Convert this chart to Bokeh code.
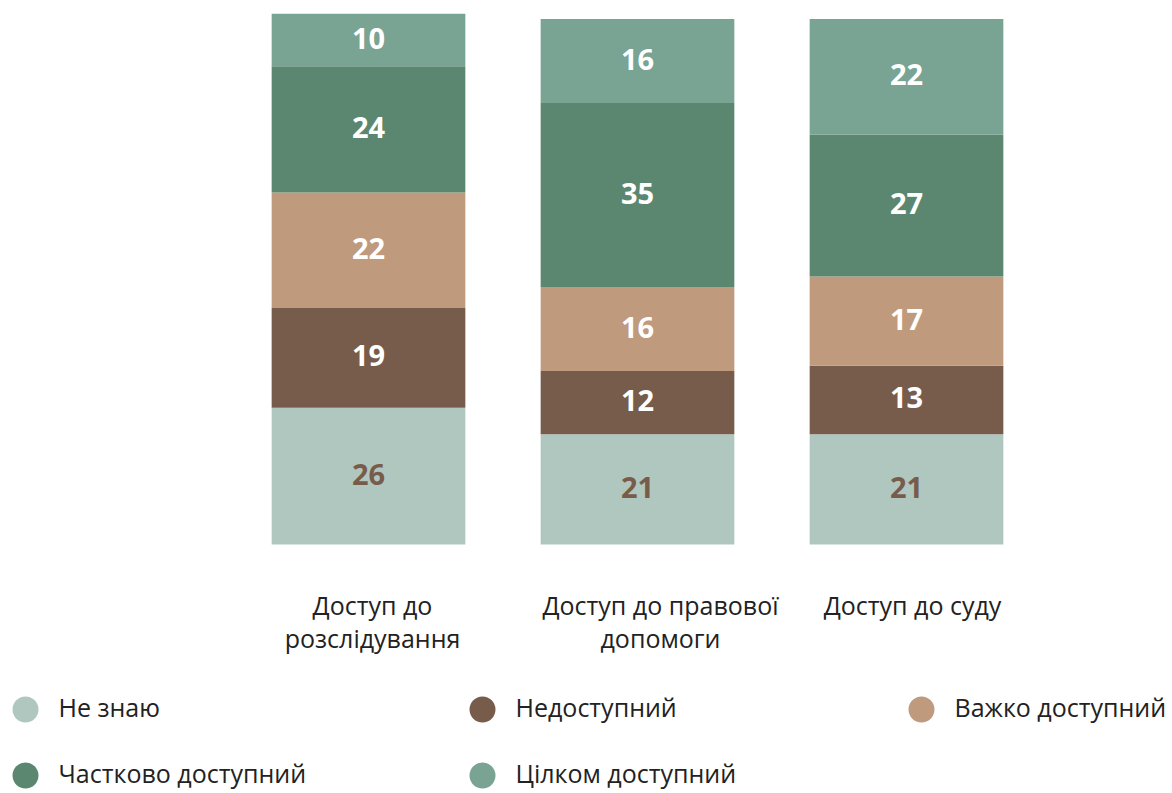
import textwrap
from bokeh.plotting import figure
from bokeh.models import ColumnDataSource, Range1d
from bokeh.core.properties import value
from bokeh.embed import file_html
from bokeh.resources import INLINE

# ---- data ----
categories = ["Доступ до розслідування", "Доступ до правової допомоги", "Доступ до суду"]
series = ["Не знаю", "Недоступний", "Важко доступний", "Частково доступний", "Цілком доступний"]
ne_znayu = [26, 21, 21]
nedostupnyi = [19, 12, 13]
vazhko_dostupnyi = [22, 16, 17]
chastkovo_dostupnyi = [24, 35, 27]
tsilkom_dostupnyi = [10, 16, 22]

# ---- styles ----
colors = ["#b0c7bf", "#785c4b", "#c09a7c", "#5b8771", "#79a393"]
label_colors = ["#785c4b", "#ffffff", "#ffffff", "#ffffff", "#ffffff"]
cat_label_nudge = [4, 23, 6]
TEXT_FONT = "Open Sans"
W, H = 1172, 793
X_PX, X0_PX = 269.0, 368.0      # px per category, centre of first bar
Y_PX, Y0_PX = 5.255, 544.0      # px per percent, baseline position
BAR_W = 0.72

values = [ne_znayu, nedostupnyi, vazhko_dostupnyi, chastkovo_dostupnyi, tsilkom_dostupnyi]
keys = ["s%d" % i for i in range(len(series))]

p = figure(width=W, height=H, output_backend="svg", toolbar_location=None,
           x_range=Range1d(-X0_PX / X_PX, (W - X0_PX) / X_PX),
           y_range=Range1d(-(H - Y0_PX) / Y_PX, Y0_PX / Y_PX),
           min_border=0, outline_line_color=None)
p.axis.visible = False
p.grid.visible = False
p.background_fill_color = "white"
p.border_fill_color = "white"

xs = list(range(len(categories)))
data = {"x": xs}
for k, v in zip(keys, values):
    data[k] = v
src = ColumnDataSource(data)
p.vbar_stack(keys, x="x", width=BAR_W, color=colors, line_color=None, source=src)

# value labels
lx, ly, lt, lc = [], [], [], []
for ci in xs:
    bottom = 0
    for si, v in enumerate(values):
        val = v[ci]
        lx.append(ci)
        ly.append(bottom + val / 2)
        lt.append(str(val))
        lc.append(label_colors[si])
        bottom += val
p.text(x=lx, y=ly, text=lt, text_color=lc, text_align="center", text_baseline="middle",
       y_offset=-2, text_font=value(TEXT_FONT), text_font_style="bold", text_font_size="29px")

# category labels (wrapped)
cx, ct, coff, cxo = [], [], [], []
for ci, cat in enumerate(categories):
    for li, line in enumerate(textwrap.wrap(cat, width=18)):
        cx.append(ci)
        ct.append(line)
        coff.append(60 + 33 * li)
        cxo.append(cat_label_nudge[ci])
p.text(x=cx, y=[0] * len(cx), text=ct, x_offset=cxo, y_offset=coff, text_align="center",
       text_baseline="middle", text_color="#222222",
       text_font=value(TEXT_FONT), text_font_size="25px")

# legend (3 columns x 2 rows)
col_px = [25, 482, 921]
row_px = [709, 775]
gx, gy = [], []
for i in range(len(series)):
    gx.append((col_px[i % 3] - X0_PX) / X_PX)
    gy.append((Y0_PX - row_px[i // 3]) / Y_PX)
p.scatter(x=gx, y=gy, size=26, marker="circle", fill_color=colors, line_color=None)
p.text(x=gx, y=gy, text=series, x_offset=33, y_offset=-3, text_align="left",
       text_baseline="middle", text_color="#222222",
       text_font=value(TEXT_FONT), text_font_size="25px")

open("out.html", "w").write(file_html(p, INLINE))
